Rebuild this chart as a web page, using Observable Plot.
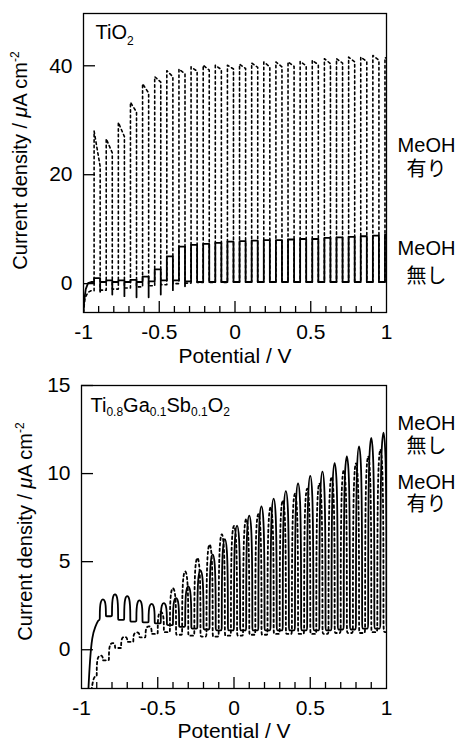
<!DOCTYPE html>
<html>
<head>
<meta charset="utf-8">
<script src="https://cdn.jsdelivr.net/npm/d3@7"></script>
<script src="https://cdn.jsdelivr.net/npm/@observablehq/plot@0.6"></script>
<style>
  body { margin: 0; background: #fff; }
  svg { display: block; }
</style>
</head>
<body>
<div id="chart"></div>
<script>
// ---------- shared tick values ----------
const xTickValues = [-1, -0.5, 0, 0.5, 1];
const xMajorTicks = [-0.5, 0, 0.5];
const xMinorTicks = [-0.9, -0.8, -0.7, -0.6, -0.4, -0.3, -0.2, -0.1, 0.1, 0.2, 0.3, 0.4, 0.6, 0.7, 0.8, 0.9];
const tio2YTicks = [0, 20, 40];
const tgsYTicks = [0, 5, 10, 15];
const sideLabelsTop = ["MeOH", "有り", "MeOH", "無し"];
const sideLabelsBottom = ["MeOH", "無し", "MeOH", "有り"];

// ---------- TiO2 panel (chopped light) ----------
const tio2LightOn  = [-0.93, -0.85, -0.77, -0.69, -0.61, -0.53, -0.45, -0.37, -0.29, -0.21, -0.13, -0.05, 0.03, 0.11, 0.19, 0.27, 0.35, 0.43, 0.51, 0.59, 0.67, 0.75, 0.83, 0.91, 0.99];
const tio2LightOff = [-0.89, -0.81, -0.73, -0.65, -0.57, -0.49, -0.41, -0.33, -0.25, -0.17, -0.09, -0.01, 0.07, 0.15, 0.23, 0.31, 0.39, 0.47, 0.55, 0.63, 0.71, 0.79, 0.87, 0.95, 1.03];
// MeOH 有り (dotted)
const tio2MeohLead  = [[-1.0, -5.3], [-0.99, -2.6], [-0.97, -1.6], [-0.95, -1.3]];
const tio2MeohPeak  = [28.0, 26.6, 29.6, 33.3, 36.7, 38.0, 39.1, 39.4, 39.8, 40.1, 40.1, 40.1, 40.3, 40.5, 40.7, 40.7, 40.7, 40.8, 41.0, 41.3, 41.3, 41.6, 41.6, 41.9, 41.5];
const tio2MeohLight = [21.5, 24.0, 27.0, 31.5, 35.0, 37.0, 38.0, 38.5, 39.0, 39.2, 39.3, 39.4, 39.5, 39.7, 39.8, 39.8, 39.9, 40.0, 40.2, 40.4, 40.5, 40.7, 40.8, 41.0, 41.0];
const tio2MeohDark  = [-1.2, -1.0, -0.8, -0.6, -0.4, -0.2, 0.0, 0.1, 0.2, 0.2, 0.2, 0.3, 0.3, 0.3, 0.3, 0.3, 0.3, 0.3, 0.3, 0.3, 0.3, 0.3, 0.3, 0.3, 0.3];
// MeOH 無し (solid)
const tio2WaterLead  = [[-1.0, -5.3], [-0.995, -3.0], [-0.985, -1.0], [-0.97, 0.1], [-0.95, 0.3]];
const tio2WaterLight = [1.0, 0.6, 0.6, 0.7, 1.3, 2.6, 5.0, 6.8, 7.1, 7.3, 7.5, 7.7, 7.8, 7.9, 8.0, 8.0, 8.1, 8.2, 8.2, 8.4, 8.5, 8.6, 8.7, 8.8, 9.0];
const tio2WaterSpike = [-1.5, -2.0, -2.3, -2.5, -2.5, -2.0, -1.2, -0.5, 0.3, 0.3, 0.3, 0.3, 0.3, 0.3, 0.3, 0.3, 0.3, 0.3, 0.3, 0.3, 0.3, 0.3, 0.3, 0.3, 0.3];
const tio2WaterDark  = [0.3, 0.3, 0.3, 0.3, 0.4, 0.6, 0.6, 0.4, 0.3, 0.3, 0.3, 0.3, 0.3, 0.3, 0.3, 0.3, 0.3, 0.3, 0.3, 0.3, 0.3, 0.3, 0.3, 0.3, 0.3];

// ---------- Ti0.8Ga0.1Sb0.1O2 panel ----------
// MeOH 無し (solid)
const tgsWaterOn   = [-0.88, -0.80, -0.72, -0.64, -0.56, -0.48, -0.40, -0.32, -0.24, -0.16, -0.08, 0.00, 0.08, 0.16, 0.24, 0.32, 0.40, 0.48, 0.56, 0.64, 0.72, 0.80, 0.88, 0.96];
const tgsWaterOff  = [-0.84, -0.76, -0.68, -0.60, -0.52, -0.44, -0.36, -0.28, -0.20, -0.12, -0.04, 0.04, 0.12, 0.20, 0.28, 0.36, 0.44, 0.52, 0.60, 0.68, 0.76, 0.84, 0.92, 1.00];
const tgsWaterLead  = [[-0.955, -2.3], [-0.945, -0.6], [-0.93, 0.8], [-0.91, 1.3], [-0.89, 1.7]];
const tgsWaterLight = [2.9, 3.2, 3.1, 2.85, 2.65, 2.7, 3.0, 3.7, 4.65, 5.6, 6.5, 7.3, 7.9, 8.45, 8.9, 9.35, 9.8, 10.25, 10.5, 11.0, 11.4, 12.0, 12.5, 12.8];
const tgsWaterDark  = [1.9, 1.7, 1.6, 1.55, 1.5, 1.4, 1.3, 1.2, 1.15, 1.1, 1.1, 1.1, 1.1, 1.1, 1.1, 1.1, 1.1, 1.1, 1.1, 1.15, 1.15, 1.2, 1.2, 1.2];
// MeOH 有り (dotted)
const tgsMeohOn    = [-0.90, -0.82, -0.74, -0.66, -0.58, -0.50, -0.42, -0.34, -0.26, -0.18, -0.10, -0.02, 0.06, 0.14, 0.22, 0.30, 0.38, 0.46, 0.54, 0.62, 0.70, 0.78, 0.86, 0.94];
const tgsMeohOff   = [-0.86, -0.78, -0.70, -0.62, -0.54, -0.46, -0.38, -0.30, -0.22, -0.14, -0.06, 0.02, 0.10, 0.18, 0.26, 0.34, 0.42, 0.50, 0.58, 0.66, 0.74, 0.82, 0.90, 0.98];
const tgsMeohLead  = [[-0.935, -2.3], [-0.92, -1.5]];
const tgsMeohLight = [-0.3, 0.4, 0.75, 1.0, 1.35, 2.2, 3.6, 4.6, 5.4, 6.2, 6.8, 7.3, 7.7, 8.0, 8.4, 8.8, 9.2, 9.5, 9.8, 10.2, 10.6, 11.0, 11.4, 11.8];
const tgsMeohDark  = [-0.6, 0.1, 0.45, 0.7, 0.9, 1.0, 0.85, 0.8, 0.75, 0.75, 0.8, 0.8, 0.85, 0.85, 0.9, 0.9, 0.9, 0.9, 0.9, 0.95, 0.95, 0.95, 1.0, 1.0];

// Build a chopped-light trace table from the arrays above.
// sharpDark repeats the dark-level corner vertices so a smoothing curve keeps them crisp.
function chopTrace(lead, lightOn, lightOff, light, dark, peak, spike, sharpDark) {
  const pts = lead.map(([x, y]) => ({x, y}));
  const rep = sharpDark ? 2 : 1;
  let prev = pts[pts.length - 1].y;
  lightOn.forEach((xOn, i) => {
    const xOff = lightOff[i];
    for (let k = 0; k < rep; ++k) pts.push({x: xOn, y: prev});
    pts.push({x: xOn, y: peak ? peak[i] : light[i]});
    pts.push({x: xOff, y: light[i]});
    if (spike) pts.push({x: xOff, y: spike[i]});
    for (let k = 0; k < rep; ++k) pts.push({x: xOff, y: dark[i]});
    prev = dark[i];
  });
  pts.push({x: 1.05, y: prev});
  return pts;
}

const FONT = "'Liberation Sans', Arial, 'Noto Sans CJK JP', sans-serif";
const INK = "#000";

function richText(svg, plain, parts) {
  for (const t of svg.querySelectorAll("text")) {
    if (t.textContent === plain) {
      t.textContent = "";
      for (const p of parts) {
        const ts = document.createElementNS("http://www.w3.org/2000/svg", "tspan");
        ts.textContent = p.t;
        if (p.dy) ts.setAttribute("dy", p.dy);
        if (p.size) ts.setAttribute("font-size", p.size);
        if (p.italic) ts.setAttribute("font-style", "italic");
        t.appendChild(ts);
      }
    }
  }
}

function makePanel({height, mt, mb, ml, mr, yDomain, yTicks, traces, panelLabel, labelDx, labelDy, xLabelDy, yLabelDx, yLabelDy, sideText, sideY}) {
  const width = 457;
  const innerH = height - mt - mb;
  const innerW = width - ml - mr;
  const marks = [
    ...traces.map(t => Plot.line(t.data, {
      x: "x", y: "y", stroke: INK, strokeWidth: t.width, strokeDasharray: t.dash,
      curve: t.curve, clip: true, strokeLinejoin: "round"
    })),
    Plot.tickX(xMajorTicks, {x: d => d, insetTop: innerH - 11, stroke: INK, strokeWidth: 1.3}),
    Plot.tickX(xMinorTicks, {x: d => d, insetTop: innerH - 6, stroke: INK, strokeWidth: 1.3}),
    Plot.tickY(yTicks, {y: d => d, insetRight: innerW - 12, stroke: INK, strokeWidth: 1.3}),
    Plot.frame({stroke: INK, strokeWidth: 1.3}),
    Plot.axisX(xTickValues, {tickSize: 0, tickPadding: 12, tickFormat: d => String(d), label: null, fill: INK, fontSize: 21}),
    Plot.axisY(yTicks, {tickSize: 0, tickPadding: 11, tickFormat: d => String(d), label: null, fill: INK, fontSize: 21}),
    Plot.text(["Potential / V"], {text: d => d, frameAnchor: "bottom", dy: xLabelDy, lineAnchor: "bottom", fill: INK, fontSize: 21}),
    Plot.text(["Current density / μA cm-2"], {text: d => d, frameAnchor: "left", rotate: -90, dx: yLabelDx, dy: yLabelDy, lineAnchor: "bottom", textAnchor: "middle", fill: INK}),
    Plot.text([panelLabel.plain], {text: d => d, frameAnchor: "top-left", dx: labelDx, dy: labelDy, lineAnchor: "bottom", textAnchor: "start", fill: INK}),
    Plot.text(sideText, {text: d => d, x: () => 1, y: sideY, dx: 40, textAnchor: "middle", lineAnchor: "middle", fill: INK})
  ];
  const svg = Plot.plot({
    width, height,
    marginTop: mt, marginBottom: mb, marginLeft: ml, marginRight: mr,
    x: {domain: [-1, 1]},
    y: {domain: yDomain},
    style: {fontFamily: FONT, fontSize: "20px", color: INK, background: "#fff", overflow: "visible"},
    marks
  });
  richText(svg, "Current density / μA cm-2", [
    {t: "Current density / "}, {t: "μ", italic: true}, {t: "A cm"}, {t: "-2", size: 12, dy: -8}
  ]);
  richText(svg, panelLabel.plain, panelLabel.parts);
  return svg;
}

const topPanel = makePanel({
  height: 370, mt: 13, mb: 58, ml: 83, mr: 71,
  yDomain: [-5.3, 49.6], yTicks: tio2YTicks,
  traces: [
    {data: chopTrace(tio2MeohLead, tio2LightOn, tio2LightOff, tio2MeohLight, tio2MeohDark, tio2MeohPeak, null, false), width: 1.6, dash: "2.5,3", curve: "linear"},
    {data: chopTrace(tio2WaterLead, tio2LightOn, tio2LightOff, tio2WaterLight, tio2WaterDark, null, tio2WaterSpike, false), width: 1.8, dash: null, curve: "linear"}
  ],
  panelLabel: {plain: "TiO2", parts: [{t: "TiO"}, {t: "2", size: 12, dy: 6}]},
  labelDx: 12, labelDy: 25, xLabelDy: 50,
  yLabelDx: -57, yLabelDy: -2.5,
  sideText: sideLabelsTop, sideY: [25.4, 21.0, 6.5, 1.35]
});

const bottomPanel = makePanel({
  height: 370, mt: 15, mb: 52, ml: 81, mr: 71,
  yDomain: [-2.2, 15], yTicks: tgsYTicks,
  traces: [
    {data: chopTrace(tgsMeohLead, tgsMeohOn, tgsMeohOff, tgsMeohLight, tgsMeohDark, null, null, true), width: 1.8, dash: "2.5,3", curve: "basis"},
    {data: chopTrace(tgsWaterLead, tgsWaterOn, tgsWaterOff, tgsWaterLight, tgsWaterDark, null, null, true), width: 1.8, dash: null, curve: "basis"}
  ],
  panelLabel: {plain: "Ti0.8Ga0.1Sb0.1O2", parts: [
    {t: "Ti"}, {t: "0.8", size: 12, dy: 4}, {t: "Ga", dy: -4}, {t: "0.1", size: 12, dy: 4},
    {t: "Sb", dy: -4}, {t: "0.1", size: 12, dy: 4}, {t: "O", dy: -4}, {t: "2", size: 12, dy: 4}
  ]},
  labelDx: 9, labelDy: 26, xLabelDy: 49,
  yLabelDx: -50, yLabelDy: -5.5,
  sideText: sideLabelsBottom, sideY: [12.84, 11.55, 9.47, 8.24]
});

const chart = document.getElementById("chart");
chart.appendChild(topPanel);
chart.appendChild(bottomPanel);
</script>
</body>
</html>
